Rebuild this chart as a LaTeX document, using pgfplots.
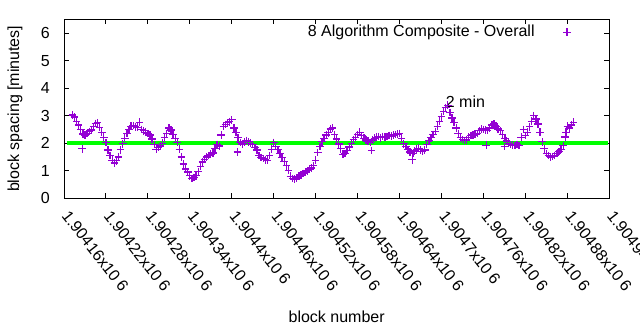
\documentclass[border=0pt]{standalone}
\usepackage{pgfplots}
\pgfplotsset{compat=1.18}
\usepackage{pgfplotstable}
\usepackage{fontspec}
\setmainfont{Liberation Sans}
\definecolor{gpviolet}{RGB}{148,0,211}
\definecolor{gpgreen}{RGB}{0,255,0}
% x = block number - 1904000
\pgfplotstableread{
x y
172 3.02
175 2.95
178 2.80
181 2.66
184 2.50
186 1.80
187 2.33
190 2.30
193 2.36
196 2.42
199 2.48
202 2.60
205 2.72
208 2.74
211 2.58
214 2.40
217 2.22
220 2.02
223 1.75
226 1.55
229 1.38
232 1.28
235 1.36
238 1.50
241 1.76
244 1.98
247 2.18
250 2.36
253 2.50
256 2.62
259 2.64
262 2.60
265 2.58
268 2.76
271 2.50
274 2.45
277 2.40
280 2.35
283 2.30
286 2.15
289 1.95
292 1.78
295 1.84
298 1.90
301 2.00
304 2.20
307 2.36
310 2.55
313 2.48
316 2.32
319 2.18
322 2.02
325 1.78
328 1.50
331 1.25
334 1.06
337 0.95
340 0.82
343 0.72
346 0.76
349 0.82
352 0.98
355 1.15
358 1.32
361 1.42
364 1.50
367 1.55
370 1.60
373 1.64
376 1.82
379 1.96
382 1.90
385 2.30
388 2.62
391 2.68
394 2.74
397 2.78
400 2.85
403 2.55
406 2.40
408 1.68
409 2.20
412 2.02
415 1.97
418 2.05
421 2.10
424 2.05
427 2.00
430 1.95
433 1.85
436 1.75
439 1.55
442 1.48
445 1.44
448 1.40
451 1.38
454 1.55
457 1.78
460 2.03
463 1.88
466 1.76
469 1.62
472 1.48
475 1.34
478 1.18
481 1.02
484 0.80
487 0.72
490 0.70
493 0.74
496 0.80
499 0.85
502 0.90
505 0.95
508 1.00
511 1.06
514 1.10
517 1.18
520 1.38
523 1.66
526 1.88
529 2.05
532 2.17
535 2.30
538 2.38
541 2.52
544 2.55
547 2.32
550 2.15
553 1.97
556 1.80
559 1.60
562 1.62
565 1.74
568 1.86
571 2.00
574 2.14
577 2.22
580 2.32
583 2.40
586 2.28
589 2.18
592 2.12
595 2.08
598 2.02
600 1.74
601 2.12
604 2.18
607 2.22
610 2.24
613 2.20
616 2.25
619 2.22
622 2.24
625 2.28
628 2.26
631 2.30
634 2.32
637 2.34
640 2.36
643 2.18
646 1.98
649 1.88
652 1.76
655 1.68
658 1.40
659 1.62
661 1.72
664 1.78
667 1.82
670 1.76
673 1.70
676 1.75
679 1.95
682 2.10
685 2.20
688 2.32
691 2.42
694 2.62
697 2.80
700 2.96
703 3.15
706 3.30
709 3.38
712 3.12
715 2.92
718 2.76
721 2.55
724 2.36
727 2.20
730 2.14
733 2.10
736 2.12
739 2.22
742 2.28
745 2.30
748 2.33
751 2.35
754 2.45
757 2.52
760 2.50
763 2.48
764 1.93
766 2.46
769 2.55
772 2.66
775 2.70
778 2.62
781 2.52
784 2.46
787 2.32
790 1.88
791 2.18
793 2.08
796 2.00
799 1.96
802 1.94
805 1.92
808 1.95
811 1.92
814 2.22
817 2.50
820 2.28
823 2.40
826 2.60
829 2.80
832 3.00
835 2.88
838 2.70
841 2.40
844 2.05
847 1.80
850 1.62
853 1.55
856 1.50
859 1.52
862 1.56
865 1.62
868 1.70
871 1.78
874 1.92
877 2.23
878 2.40
880 2.62
883 2.55
886 2.66
889 2.76
}\datatable
\begin{document}
\fontsize{16bp}{19bp}\selectfont
\begin{tikzpicture}
\begin{axis}[
  scale only axis, width=545.3bp, height=179bp,
  xmin=160, xmax=940, ymin=0, ymax=6.5,
  xtick={160,220,...,940},
  xticklabels={1.90416x10 6,1.90422x10 6,1.90428x10 6,1.90434x10 6,1.9044x10 6,1.90446x10 6,1.90452x10 6,1.90458x10 6,1.90464x10 6,1.9047x10 6,1.90476x10 6,1.90482x10 6,1.90488x10 6,1.90494x10 6},
  ytick={0,1,2,3,4,5,6},
  /pgf/number format/assume math mode=true,
  tick align=inside, major tick length=5bp,
  axis line style={line width=0.9bp, black},
  every tick/.style={black, line width=0.9bp},
  xticklabel style={inner sep=0pt, anchor=north west, yshift=-11bp, xshift=6bp, rotate=-52},
  yticklabel style={inner sep=0pt, anchor=east, xshift=-14bp},
  xlabel={block number},
  xlabel style={at={(axis description cs:0.5,0)}, anchor=center, yshift=-118bp},
  ylabel={block spacing [minutes]},
  ylabel style={at={(axis description cs:0,0.5)}, anchor=center, yshift=49bp},
  legend plot pos=right,
  legend cell align=right,
  legend style={draw=none, fill=none, inner sep=0pt, at={(axis description cs:0.93,0.928)}, anchor=east},
  legend image code/.code={\path[draw=none,fill=none] (0bp,0bp) -- (34bp,0bp); \draw[#1] plot coordinates {(30.5bp,0bp)};},
  clip=false,
]
\node[anchor=west, inner sep=0pt] at (axis cs:706,3.49) {2 min};
\addplot[only marks, mark=+, color=gpviolet, mark size=3.8bp, mark options={line width=1.3bp}] table[x=x,y=y] {\datatable};
\addlegendentry{8 Algorithm Composite - Overall}
\addplot[gpgreen, line width=4bp, forget plot] coordinates {(164,2) (938,2)};
\end{axis}
\pgfresetboundingbox
\path[use as bounding box] (-64bp,-131.7bp) rectangle (576bp,198.3bp);
\end{tikzpicture}
\end{document}
